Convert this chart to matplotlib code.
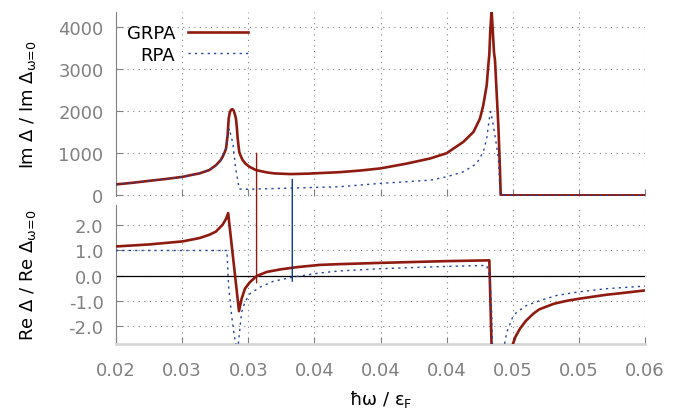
import matplotlib
matplotlib.use("Agg")
import matplotlib.pyplot as plt
from matplotlib.patches import ConnectionPatch

# ---------------- data ----------------
x_im_grpa = [0.0200, 0.0213, 0.02252, 0.0238, 0.02504, 0.0258, 0.0263, 0.02705, 0.02756, 0.0279,
             0.02806, 0.0282, 0.02832, 0.02844, 0.02852, 0.0286, 0.0287, 0.0288, 0.0289, 0.0290,
             0.02907, 0.02914, 0.0292, 0.02932, 0.02945, 0.02958, 0.0298, 0.03008, 0.03058, 0.0314,
             0.0320, 0.0332, 0.0345, 0.0355, 0.0369, 0.0385, 0.0400, 0.0420, 0.04375, 0.0450,
             0.04627, 0.04703, 0.04752, 0.04777, 0.04803, 0.04815, 0.04823, 0.0483, 0.0484, 0.04858,
             0.04866, 0.04878, 0.04891, 0.04903, 0.04908, 0.0491, 0.0550, 0.0600]
y_im_grpa = [260, 300, 345, 390, 440, 490, 520, 600, 715, 830,
             915, 1010, 1110, 1425, 1820, 1960, 2030, 2045, 2010, 1910,
             1820, 1600, 1350, 1030, 920, 835, 750, 680, 600, 545,
             520, 505, 515, 530, 550, 590, 640, 755, 875, 1000,
             1270, 1505, 1820, 2135, 2610, 3080, 3350, 3900, 4400, 3400,
             3200, 2450, 1660, 640, 90, 0, 0, 0]

x_im_rpa = [0.0200, 0.0213, 0.02252, 0.0238, 0.02504, 0.0258, 0.0263, 0.02705, 0.02756, 0.0279,
            0.02806, 0.0282, 0.02832, 0.02844, 0.02857, 0.02884, 0.02903, 0.02922, 0.02932, 0.0300,
            0.0330, 0.0369, 0.0400, 0.04375, 0.0450, 0.04627, 0.04727, 0.04777, 0.04803, 0.04823,
            0.04833, 0.04853, 0.04873, 0.04891, 0.04898, 0.04903, 0.04907, 0.0550, 0.0600]
y_im_rpa = [260, 300, 345, 390, 440, 490, 520, 600, 715, 830,
            915, 1010, 1110, 1425, 1585, 1230, 680, 330, 150, 145,
            170, 205, 285, 360, 440, 560, 755, 1030, 1350, 1820,
            1990, 1660, 1270, 875, 480, 90, 0, 0, 0]

x_re_grpa = [0.0200, 0.02252, 0.02504, 0.0263, 0.02705, 0.02756, 0.02806, 0.02832, 0.02848, 0.0293,
             0.0295, 0.02975, 0.03013, 0.03064, 0.03139, 0.0324, 0.03366, 0.03542, 0.0369, 0.0400,
             0.0450, 0.04823, 0.0484, 0.0486, 0.0499, 0.0500, 0.0502, 0.05055, 0.0510, 0.05156,
             0.0520, 0.0531, 0.0540, 0.0550, 0.0571, 0.0580, 0.0600]
y_re_grpa = [1.16, 1.24, 1.36, 1.49, 1.62, 1.75, 2.02, 2.25, 2.48, -1.40,
             -0.91, -0.51, -0.25, -0.01, 0.15, 0.25, 0.34, 0.43, 0.46, 0.51,
             0.58, 0.61, -2.8, -6.0, -6.0, -2.72, -2.42, -2.09, -1.78, -1.50,
             -1.33, -1.11, -1.00, -0.91, -0.75, -0.70, -0.58]

x_re_rpa = [0.0200, 0.02839, 0.02851, 0.02874, 0.02894, 0.02907, 0.0291, 0.0292, 0.02924, 0.02937,
            0.0295, 0.02975, 0.03013, 0.03089, 0.03189, 0.0334, 0.0354, 0.0369, 0.0400, 0.0450,
            0.04803, 0.04828, 0.0484, 0.04846, 0.0486, 0.0493, 0.04937, 0.04955, 0.0498, 0.0500,
            0.0503, 0.05106, 0.05206, 0.05332, 0.05496, 0.0571, 0.0600]
y_re_rpa = [1.0, 1.0, -0.38, -1.57, -2.36, -2.75, -6.0, -6.0, -2.75, -2.09,
            -1.44, -1.04, -0.71, -0.45, -0.22, -0.05, 0.11, 0.19, 0.28, 0.37,
            0.41, -0.12, -1.3, -2.7, -6.0, -6.0, -2.72, -2.23, -1.9, -1.63,
            -1.44, -1.17, -0.98, -0.78, -0.64, -0.51, -0.41]

# marker lines (x position, top-panel top value, bottom-panel bottom value)
x_mark_grpa, im_mark_grpa, re_mark_grpa = 0.03063, 1000, -0.28
x_mark_rpa, im_mark_rpa, re_mark_rpa = 0.03333, 380, -0.22

x_ticks = [0.02, 0.025, 0.03, 0.035, 0.04, 0.045, 0.05, 0.055, 0.06]
x_ticklabels = ["0.02", "0.03", "0.03", "0.04", "0.04", "0.04", "0.05", "0.05", "0.06"]
im_ticks = [0, 1000, 2000, 3000, 4000]
im_ticklabels = ["0", "1000", "2000", "3000", "4000"]
re_ticks = [-2.0, -1.0, 0.0, 1.0, 2.0]
re_ticklabels = ["-2.0", "-1.0", "0.0", "1.0", "2.0"]

# ---------------- style ----------------
RED = "#8e1a10"
BLUE = "#23449a"
VBLUE = "#0d3a8e"
GRAY = "#808080"
FS = 13

plt.rcParams["font.family"] = ["DejaVu Sans"]
plt.rcParams["mathtext.fontset"] = "dejavusans"

fig = plt.figure(figsize=(6.81, 4.14), dpi=100)
L, R = 116 / 681, 645 / 681
ax1 = fig.add_axes([L, 1 - 197 / 414, R - L, (197 - 13) / 414])
ax2 = fig.add_axes([L, 1 - 345 / 414, R - L, (345 - 206) / 414], sharex=ax1)

grid_kw = dict(color=GRAY, linestyle=(0, (1, 4)), linewidth=0.8)
for ax in (ax1, ax2):
    ax.set_xlim(0.02, 0.06)
    ax.grid(True, **grid_kw)
    ax.set_axisbelow(True)
    ax.tick_params(direction="in", length=5, width=0.8, color=GRAY,
                   labelcolor=GRAY, labelsize=FS)
    ax.tick_params(axis="y", pad=9)
    ax.tick_params(axis="x", pad=12)
    for s in ("top", "right"):
        ax.spines[s].set_visible(False)
    ax.spines["left"].set_color(GRAY)
    ax.spines["left"].set_linewidth(0.8)

ax1.spines["bottom"].set_visible(False)
ax2.spines["bottom"].set_color("#d8d8d8")
ax2.spines["bottom"].set_linewidth(2.0)

# top panel
ax1.plot(x_im_grpa, y_im_grpa, color=RED, lw=1.9, label="GRPA", zorder=3)
ax1.plot(x_im_rpa, y_im_rpa, color=BLUE, lw=1.0, linestyle=(0, (1.6, 3.0)), label="RPA", zorder=4)
ax1.set_ylim(-15, 4350)
ax1.set_yticks(im_ticks)
ax1.set_yticklabels(im_ticklabels)
ax1.tick_params(axis="x", labelbottom=False)

# bottom panel
ax2.axhline(0, color="black", lw=0.9, zorder=2)
ax2.plot(x_re_grpa, y_re_grpa, color=RED, lw=1.9, zorder=3)
ax2.plot(x_re_rpa, y_re_rpa, color=BLUE, lw=1.0, linestyle=(0, (1.6, 3.0)), zorder=4)
ax2.set_ylim(-2.7, 2.8)
ax2.set_yticks(re_ticks)
ax2.set_yticklabels(re_ticklabels)
ax2.set_xticks(x_ticks)
ax2.set_xticklabels(x_ticklabels)

# vertical marker lines spanning both panels
for xm, ytop, ybot, col in ((x_mark_grpa, im_mark_grpa, re_mark_grpa, RED),
                            (x_mark_rpa, im_mark_rpa, re_mark_rpa, VBLUE)):
    con = ConnectionPatch(xyA=(xm, ytop), coordsA=ax1.transData,
                          xyB=(xm, ybot), coordsB=ax2.transData,
                          color=col, lw=1.0, zorder=5)
    fig.add_artist(con)

# labels
ax1.set_ylabel(r"Im Δ / Im Δ$_\text{ω=0}$", fontsize=FS, color="black")
ax2.set_ylabel(r"Re Δ / Re Δ$_\text{ω=0}$", fontsize=FS, color="black")
ax1.yaxis.set_label_coords(-0.148, 0.5)
ax2.yaxis.set_label_coords(-0.148, 0.5)
ax2.set_xlabel(r"ħω / ε$_\text{F}$", fontsize=FS, color="black", labelpad=7)

leg = ax1.legend(loc="upper left", bbox_to_anchor=(0.0, 0.993), frameon=False,
                 markerfirst=False, fontsize=FS, handlelength=3.3,
                 handletextpad=0.7, labelspacing=0.2, borderaxespad=0.2)

fig.savefig("out.png", dpi=100)
